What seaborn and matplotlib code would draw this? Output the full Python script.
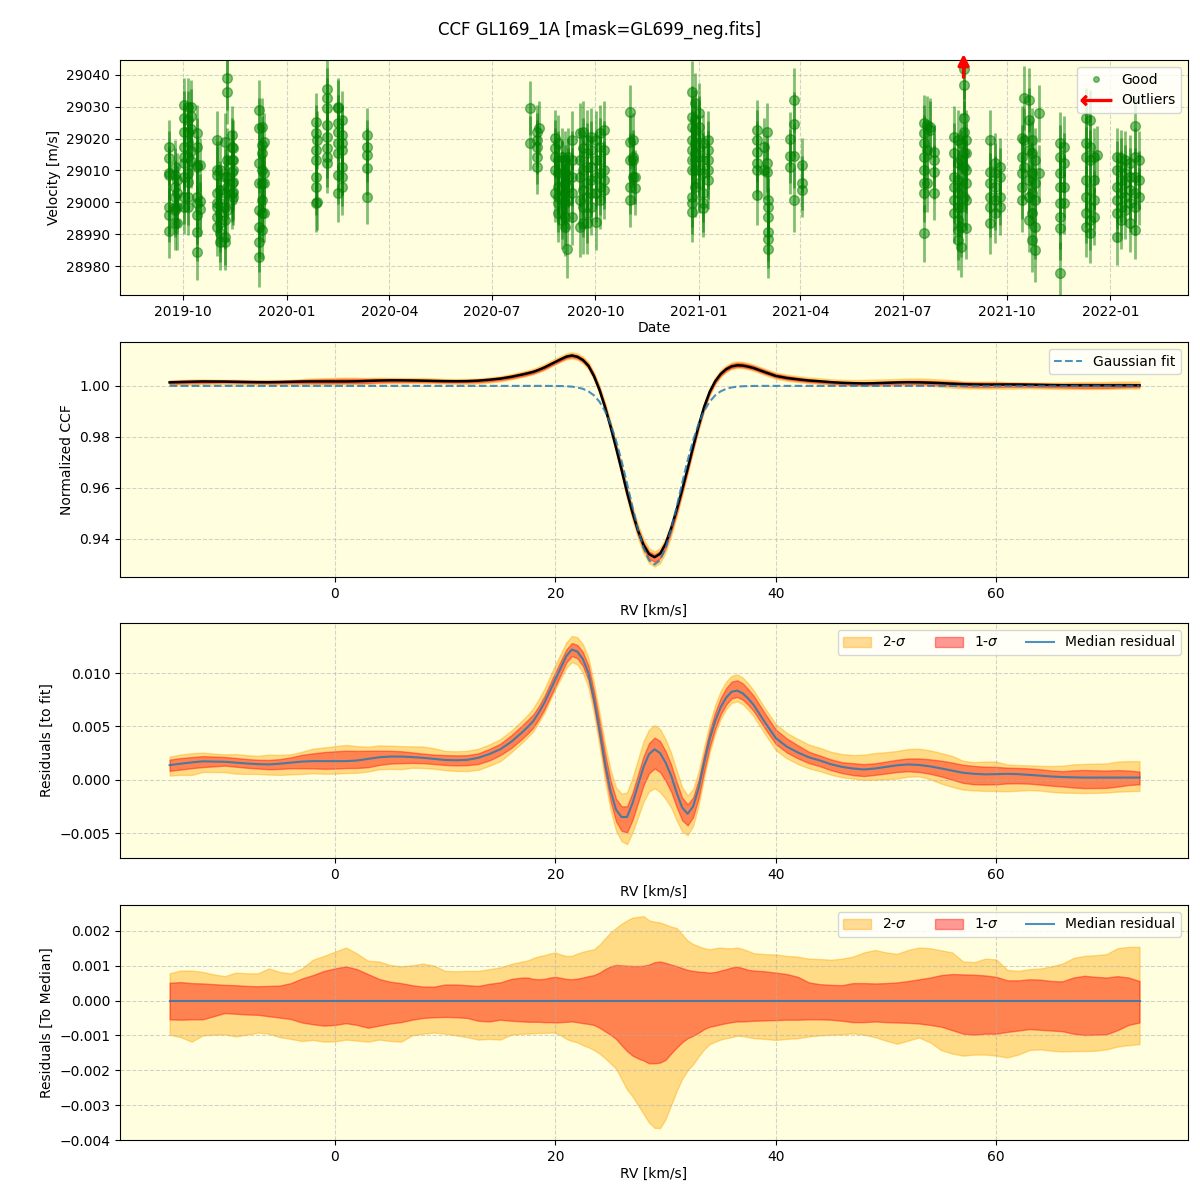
import numpy as np
import pandas as pd
import matplotlib
matplotlib.use("Agg")
import matplotlib.pyplot as plt
import matplotlib.dates as mdates
from matplotlib.lines import Line2D
import seaborn as sns

# ---------------- Top panel: RV time series (days after 2019-10-01) ----------------
base_date = pd.Timestamp("2019-10-01")
group_days = [-12.1, -7.1, -5.0, 0.9, 4.7, 6.8, 12.7, 15.1,
              29.9, 32.8, 37.3, 39.3, 43.2, 44.7,
              67.8, 69.8, 71.9,
              117.8, 119.3, 127.6, 137.9, 140.9, 163.0,
              308.0, 314.0, 316.0,
              330.3, 333.2, 336.2, 339.1, 340.6, 342.1, 345.0,
              352.4, 355.4, 358.9, 362.0, 366.4, 370.2, 373.8,
              396.8, 399.8, 401.3,
              451.6, 454.5, 457.5, 461.3, 465.5,
              509.3, 515.2, 518.2, 519.1,
              538.9, 542.4, 549.3,
              657.3, 660.2, 662.6, 666.1,
              684.5, 687.4, 690.4, 692.8, 695.1,
              716.5, 720.9, 724.7,
              744.6, 746.6, 750.5, 753.4, 756.4, 759.3,
              778.6, 782.1,
              801.7, 804.6, 808.2, 811.2,
              828.9, 832.4, 836.3, 840.1, 845.2, 848.1]
group_errs = [8.5, 8.5, 8.5, 8.5, 9.0, 8.5, 9.0, 8.5,
              9.0, 9.0, 9.0, 10.0, 9.0, 9.0,
              9.5, 9.0, 9.0,
              9.0, 9.0, 9.5, 9.0, 9.0, 8.5,
              8.5, 8.5, 8.5,
              9.0, 9.0, 9.0, 9.0, 9.0, 9.0, 9.0,
              9.5, 9.5, 9.5, 9.0, 9.0, 9.0, 9.0,
              8.5, 8.5, 8.5,
              9.5, 9.5, 9.5, 9.0, 9.0,
              9.5, 9.0, 9.0, 9.0,
              8.5, 10.0, 8.5,
              9.0, 9.0, 9.0, 8.5,
              9.5, 9.5, 9.5, 9.5, 9.5,
              9.5, 9.5, 9.0,
              10.0, 10.0, 10.0, 10.0, 10.0, 9.0,
              10.0, 9.5,
              9.5, 9.5, 9.0, 9.0,
              9.0, 9.0, 9.0, 9.0, 9.0, 9.0]
group_vels = [
    [29017.3, 29013.8, 29009.1, 29008.6, 28998.6, 28996.0, 28991.1],
    [29011.2, 29008.6, 29004.9, 29001.8, 28998.6, 28997.6, 28993.4],
    [29007.0, 29002.8, 28998.6, 28993.4],
    [29030.6, 29026.4, 29022.2, 29017.5, 29014.3, 29012.3, 29008.0, 29001.8, 28998.6],
    [29030.0, 29025.9, 29022.2, 29019.0, 29014.3, 29009.1, 29006.5, 29001.8, 28998.6],
    [29030.0, 29027.0, 29023.0, 29016.0, 29013.0],
    [29021.7, 29017.5, 29011.7, 29011.2, 29001.8, 28999.7, 28996.0, 28990.6, 28984.5],
    [29011.7, 29000.5, 28998.0],
    [29019.6, 29010.2, 29008.6, 29002.8, 28999.7, 28998.6, 28995.5, 28992.3],
    [29010.2, 29003.9, 28999.7, 28996.6, 28993.4, 28990.3, 28987.6],
    [29019.0, 29008.0, 29002.8, 28998.6, 28994.4, 28989.2, 28987.6],
    [29039.0, 29034.6, 29013.3, 29008.0, 29004.9, 28997.6],
    [29021.1, 29017.5, 29013.3, 29009.6, 29006.0, 29002.8, 29000.7],
    [29017.0, 29013.3, 29010.2, 29006.5, 29003.3, 29001.8],
    [29029.0, 29023.3, 29012.3, 29006.0, 28997.6, 28992.3, 28987.6, 28982.9],
    [29023.8, 29018.0, 29015.4, 29010.2, 29006.0, 29000.7, 28996.6, 28991.3],
    [29019.0, 29009.1, 29006.0, 28996.6],
    [29025.3, 29021.7, 29016.4, 29013.3, 29008.0, 29004.9, 28999.7],
    [29019.6, 29000.2],
    [29035.5, 29032.7, 29029.5, 29024.3, 29020.6, 29017.0, 29014.3, 29012.3],
    [29030.0, 29029.5, 29024.8, 29022.2, 29018.5, 29015.4, 29008.6, 29002.8],
    [29025.9, 29021.1, 29018.5, 29016.4, 29011.2, 29008.0, 29004.9],
    [29021.1, 29017.5, 29014.9, 29010.7, 29001.8],
    [29029.5, 29018.5],
    [29022.2, 29019.6, 29017.5, 29014.3, 29011.2],
    [29023.3],
    [29020.1, 29017.0, 29014.3, 29010.2, 29002.8],
    [29018.5, 29013.3, 29009.1, 29004.9, 29001.8, 28999.7, 28996.6],
    [29014.3, 29010.2, 29007.0, 29003.9, 29000.7, 28997.6, 28994.4],
    [29013.3, 29009.1, 29006.0, 29002.8, 28999.7, 28995.5, 28992.3],
    [28985.2],
    [29014.3, 29011.2, 29008.0, 29004.9, 29000.7],
    [29019.6, 29013.3, 29008.0, 29002.8, 28995.5],
    [29021.7, 29013.3, 29008.0, 29000.7, 28992.3],
    [29022.2, 29017.0, 29010.2, 29003.9, 28998.6, 28993.4],
    [29019.6, 29015.4, 29011.2, 29006.0, 29001.8, 28996.6, 28993.4],
    [29020.6, 29016.4, 29011.2, 29007.0, 29002.8, 28998.6],
    [29019.6, 29013.3, 29008.0, 29002.8, 28993.9],
    [29021.7, 29017.5, 29013.3, 29009.1, 29004.9, 29000.7],
    [29022.7, 29016.4, 29010.2, 29007.0, 29003.9],
    [29028.5, 29019.0, 29013.3, 29004.9, 29000.7],
    [29019.6, 29014.3, 29013.3, 29008.0],
    [29008.0, 29004.4],
    [29034.8, 29026.9, 29023.8, 29019.6, 29016.4, 29013.3, 29010.2, 29001.8, 28999.7, 28997.1],
    [29031.1, 29025.9, 29022.7, 29018.5, 29015.4, 29013.3, 29010.2, 29004.9],
    [29028.0, 29023.8, 29020.6, 29017.5, 29014.3, 29010.2, 29006.0],
    [29018.5, 29013.3, 29009.1, 29002.8, 28999.7, 28998.1],
    [29019.6, 29016.4, 29013.3, 29010.2, 29007.0],
    [29022.7, 29019.6, 29015.9, 29012.3, 29010.2, 29002.3],
    [29017.5, 29010.2],
    [29022.2, 29012.3, 29009.6],
    [29000.7, 28998.6, 28995.5, 28990.6, 28988.5, 28985.2],
    [29019.8, 29014.6, 29011.2],
    [29032.1, 29024.6, 29014.6, 29000.7],
    [29011.7, 29006.0, 29003.9],
    [29024.8, 29021.7, 29018.5, 29014.3, 29010.2, 29006.0, 29002.8, 28990.3],
    [29024.3, 29016.4, 29006.0],
    [29023.8, 29022.7],
    [29015.9, 29013.3, 29009.6, 29002.8],
    [29020.6, 29015.4, 29008.0, 29004.9, 29000.7, 28996.6],
    [29019.6, 29012.3, 29007.0, 29002.8, 28998.6, 28994.4, 28991.3, 28988.1],
    [29018.5, 29013.3, 29004.9, 28998.6, 28992.3, 28986.1],
    [29041.8, 29036.9, 29026.4, 29022.2, 29015.4, 29011.2, 29001.8],
    [29019.6, 29015.4, 29010.2, 29006.0, 29000.7, 28991.8],
    [29019.6, 29009.6, 29006.0, 29001.8, 28998.6, 28993.4],
    [29012.3, 29009.1, 29004.9, 29000.7, 28996.6],
    [29011.2, 29008.0, 29001.8, 28998.6],
    [29020.1, 29014.3, 29009.1, 29004.9, 29000.7],
    [29032.7, 29019.6, 29011.2],
    [29032.1, 29025.9, 29016.4, 29007.0, 29001.8, 28994.4],
    [29019.6, 29015.4, 29009.1, 29002.8, 28996.6, 28988.1],
    [29013.3, 29006.0, 29000.7, 28992.3, 28985.0],
    [29028.0, 29009.1],
    [29018.5, 29014.3, 29009.1, 29004.9, 28999.7, 28995.5, 28991.8, 28977.7],
    [29017.5, 29012.3, 29004.9, 28999.7],
    [29026.4, 29018.5, 29014.3, 29007.0, 29001.8, 28996.6, 28992.3],
    [29025.9, 29017.5, 29013.3, 29003.9, 28998.6, 28994.4, 28990.3],
    [29014.3, 29007.0, 29000.7, 28995.5],
    [29014.9],
    [29014.3, 29010.2, 29004.9, 29000.7, 28996.6, 28989.2],
    [29013.8, 29011.2, 29007.0, 29002.8, 28998.6, 28994.4],
    [29013.3, 29009.1, 29006.0, 29001.8, 28997.6],
    [29012.3, 29008.0, 29003.9, 28999.7, 28993.4],
    [29024.0, 29014.3, 29008.0, 29002.8, 28998.6, 28991.3],
    [29013.3, 29007.0, 29001.8],
]
outlier_day = 692.8
outlier_arrow = (29038.4, 29047.5)

# ---------------- CCF panels ----------------
rv = np.concatenate([np.arange(-15, 17.5, 1.0),
                     np.arange(17.5, 38.25, 0.5),
                     np.arange(39, 73.5, 1.0)])

# Gaussian fit parameters
fit_depth, fit_center, fit_sigma = 0.070, 29.0, 2.27

# median residual to fit (units of 1e-3)
med_res = [1.37, 1.50, 1.62, 1.72, 1.70, 1.68, 1.60, 1.52, 1.46, 1.43, 1.50, 1.60, 1.70, 1.74, 1.74, 1.74, 1.74,
           1.80, 1.95, 2.10, 2.17, 2.17, 2.12, 2.05, 1.95, 1.85, 1.82, 1.86, 2.05, 2.40, 2.85, 3.55, 4.45,
           4.95, 5.5, 6.3, 7.2, 8.3, 9.4, 10.5, 11.6, 12.2, 12.0, 11.3, 10.0, 7.6, 4.7, 1.6, -1.0, -2.8, -3.5,
           -3.5, -2.2, -0.5, 1.2, 2.4, 2.85, 2.5, 1.6, 0.4, -1.2, -2.6, -3.2, -2.5, -0.8, 1.6, 3.8, 5.5, 6.8,
           7.7, 8.25, 8.35, 8.1, 7.6, 7.0,
           5.4, 3.9, 3.1, 2.55, 2.1, 1.8, 1.45, 1.2, 1.05, 0.96, 1.05, 1.2, 1.35, 1.43, 1.38, 1.25, 1.06,
           0.85, 0.65, 0.55, 0.5, 0.52, 0.55, 0.52, 0.45, 0.38, 0.3, 0.25, 0.22, 0.2, 0.2, 0.2, 0.2, 0.2, 0.2]

# percentile offsets relative to the median (units of 1e-3)
up2 = [0.78, 0.86, 0.86, 0.82, 0.75, 0.70, 0.80, 0.78, 0.78, 0.92, 0.82, 0.78, 0.92, 1.17, 1.28, 1.40, 1.52,
       1.35, 1.14, 1.12, 1.02, 0.98, 1.01, 1.06, 1.00, 0.85, 0.84, 0.85, 0.85, 0.90, 0.95, 1.05, 1.12,
       1.15, 1.22, 1.27, 1.30, 1.35, 1.38, 1.32, 1.28, 1.28, 1.35, 1.40, 1.44, 1.47, 1.60, 1.78, 1.95, 2.08,
       2.20, 2.30, 2.38, 2.40, 2.42, 2.30, 2.26, 2.24, 2.18, 2.12, 2.08, 1.90, 1.72, 1.62, 1.56, 1.50, 1.47,
       1.50, 1.52, 1.50, 1.50, 1.52, 1.48, 1.42, 1.36,
       1.33, 1.32, 1.28, 1.26, 1.20, 1.19, 1.17, 1.20, 1.26, 1.38, 1.45, 1.38, 1.34, 1.45, 1.52, 1.50, 1.44,
       1.38, 1.12, 1.10, 1.20, 1.18, 0.88, 0.85, 0.90, 0.92, 0.98, 1.06, 1.22, 1.28, 1.30, 1.33, 1.50, 1.54, 1.54]
up1 = [0.51, 0.53, 0.50, 0.49, 0.47, 0.45, 0.44, 0.42, 0.41, 0.42, 0.43, 0.50, 0.63, 0.73, 0.85, 0.92, 0.98,
       0.90, 0.76, 0.62, 0.54, 0.50, 0.44, 0.40, 0.40, 0.46, 0.46, 0.44, 0.42, 0.48, 0.52, 0.62, 0.66,
       0.66, 0.62, 0.61, 0.62, 0.66, 0.68, 0.65, 0.62, 0.61, 0.63, 0.66, 0.70, 0.73, 0.80, 0.90, 0.98, 1.02,
       1.01, 1.00, 0.99, 0.99, 1.00, 1.03, 1.10, 1.12, 1.08, 1.03, 0.99, 0.93, 0.88, 0.85, 0.83, 0.82, 0.80,
       0.82, 0.86, 0.90, 0.95, 0.97, 0.93, 0.88, 0.86,
       0.84, 0.80, 0.76, 0.68, 0.52, 0.47, 0.45, 0.44, 0.50, 0.50, 0.49, 0.50, 0.52, 0.56, 0.61, 0.66, 0.73,
       0.76, 0.75, 0.74, 0.72, 0.68, 0.58, 0.58, 0.61, 0.60, 0.56, 0.55, 0.66, 0.71, 0.68, 0.66, 0.70, 0.66, 0.56]
lo1 = [-0.54, -0.55, -0.54, -0.54, -0.45, -0.36, -0.38, -0.40, -0.41, -0.45, -0.49, -0.53, -0.63, -0.68, -0.72,
       -0.70, -0.65, -0.70, -0.78, -0.72, -0.66, -0.62, -0.55, -0.50, -0.48, -0.47, -0.48, -0.50, -0.58, -0.60,
       -0.55, -0.58, -0.60,
       -0.61, -0.61, -0.61, -0.62, -0.62, -0.63, -0.62, -0.61, -0.60, -0.62, -0.65, -0.67, -0.70, -0.78, -0.88,
       -0.98, -1.10, -1.28, -1.45, -1.58, -1.66, -1.72, -1.80, -1.80, -1.78, -1.70, -1.52, -1.35, -1.20, -1.08,
       -1.01, -0.92, -0.82, -0.75, -0.72, -0.68, -0.65, -0.62, -0.60, -0.60, -0.59, -0.58,
       -0.57, -0.56, -0.55, -0.55, -0.54, -0.54, -0.55, -0.58, -0.62, -0.62, -0.60, -0.62, -0.63, -0.64, -0.66,
       -0.70, -0.75, -0.85, -0.95, -0.98, -0.95, -0.95, -0.90, -0.86, -0.82, -0.84, -0.86, -0.88, -0.95, -0.99,
       -0.98, -0.97, -0.85, -0.70, -0.63]
lo2 = [-0.98, -1.05, -1.18, -1.00, -0.98, -0.97, -1.03, -0.98, -0.92, -0.95, -1.05, -1.10, -1.16, -1.13, -1.18,
       -1.17, -1.12, -1.15, -1.18, -1.12, -1.16, -1.18, -1.00, -0.95, -0.92, -0.95, -1.00, -1.05, -1.12, -1.10,
       -1.12, -0.98, -0.95,
       -0.95, -0.94, -0.93, -0.93, -0.92, -0.92, -1.00, -1.10, -1.16, -1.20, -1.28, -1.34, -1.42, -1.52, -1.65,
       -1.80, -1.95, -2.25, -2.55, -2.75, -3.00, -3.25, -3.50, -3.65, -3.66, -3.40, -3.00, -2.60, -2.25, -2.00,
       -1.83, -1.60, -1.40, -1.25, -1.18, -1.12, -1.08, -1.05, -1.01, -1.02, -1.05, -1.08,
       -1.10, -1.13, -1.10, -1.08, -1.03, -1.00, -0.98, -0.97, -0.94, -0.98, -1.05, -1.15, -1.24, -1.15, -1.06,
       -1.20, -1.42, -1.52, -1.58, -1.55, -1.55, -1.58, -1.63, -1.55, -1.42, -1.40, -1.44, -1.46, -1.45, -1.45,
       -1.44, -1.40, -1.32, -1.28, -1.25]

# ---------------- derived quantities ----------------
med = np.array(med_res) * 1e-3
u2 = np.array(up2) * 1e-3
u1 = np.array(up1) * 1e-3
l1 = np.array(lo1) * 1e-3
l2 = np.array(lo2) * 1e-3
fit = 1.0 - fit_depth * np.exp(-(rv - fit_center) ** 2 / (2 * fit_sigma ** 2))
ccf = fit + med

dates, vels, errs = [], [], []
for d, e, vs in zip(group_days, group_errs, group_vels):
    for v in vs:
        dates.append(base_date + pd.Timedelta(days=d))
        vels.append(v)
        errs.append(e)

BG = "lightyellow"
C2, C1 = "orange", "red"

fig = plt.figure(figsize=(12, 12), dpi=100)
W, H = 0.89, 235 / 1200
ax1 = fig.add_axes([0.1, 1 - 295 / 1200, W, H])
ax2 = fig.add_axes([0.1, 1 - 577 / 1200, W, H])
ax3 = fig.add_axes([0.1, 1 - 858 / 1200, W, H])
ax4 = fig.add_axes([0.1, 1 - 1140 / 1200, W, H])

for ax in (ax1, ax2, ax3, ax4):
    ax.set_facecolor(BG)
    ax.grid(True, linestyle="--", alpha=0.55)

# ---- panel 1
ax1.errorbar(dates, vels, yerr=errs, fmt="o", color="green", ms=7, alpha=0.5,
             elinewidth=2, capsize=0)
od = base_date + pd.Timedelta(days=outlier_day)
ax1.annotate("", xy=(od, outlier_arrow[1]), xytext=(od, outlier_arrow[0]),
             arrowprops=dict(arrowstyle="-|>", color="red", lw=2.5, mutation_scale=16),
             annotation_clip=False)
ax1.set_xlim(base_date + pd.Timedelta(days=-56), base_date + pd.Timedelta(days=892))
ax1.set_ylim(28970.9, 29044.7)
ax1.set_yticks(np.arange(28980, 29041, 10))
ax1.xaxis.set_major_locator(mdates.MonthLocator(bymonth=[1, 4, 7, 10]))
ax1.xaxis.set_major_formatter(mdates.DateFormatter("%Y-%m"))
ax1.set_xlabel("Date", labelpad=2)
ax1.set_ylabel("Velocity [m/s]")
h_good = Line2D([], [], marker="o", ls="", color="green", alpha=0.5, ms=4)
h_out = Line2D([], [], marker=r"$\longleftarrow$", ls="", color="red", ms=22)
ax1.legend([h_good, h_out], ["Good", "Outliers"], loc="upper right")

# ---- panel 2
ax2.fill_between(rv, fit + med + l2, fit + med + u2, color=C2, alpha=0.4)
ax2.fill_between(rv, fit + med + l1, fit + med + u1, color=C1, alpha=0.4)
sns.lineplot(x=rv, y=ccf, ax=ax2, color="black", lw=1.8, legend=False)
sns.lineplot(x=rv, y=fit, ax=ax2, color="C0", lw=1.5, ls="--", alpha=0.8, label="Gaussian fit")
ax2.set_xlim(-19.5, 77.4)
ax2.set_ylim(0.9251, 1.0172)
ax2.set_yticks([0.94, 0.96, 0.98, 1.00])
ax2.set_xlabel("RV [km/s]", labelpad=2)
ax2.set_ylabel("Normalized CCF")
ax2.legend(loc="upper right")

# ---- panel 3
ax3.fill_between(rv, med + l2, med + u2, color=C2, alpha=0.4, label=r"2-$\sigma$")
ax3.fill_between(rv, med + l1, med + u1, color=C1, alpha=0.4, label=r"1-$\sigma$")
sns.lineplot(x=rv, y=med, ax=ax3, color="C0", lw=1.5, alpha=0.8, label="Median residual")
ax3.set_xlim(-19.5, 77.4)
ax3.set_ylim(-0.00734, 0.01469)
ax3.set_yticks([-0.005, 0.0, 0.005, 0.010])
ax3.set_xlabel("RV [km/s]", labelpad=2)
ax3.set_ylabel("Residuals [to fit]")
ax3.legend(loc="upper right", ncol=3)

# ---- panel 4
ax4.fill_between(rv, l2, u2, color=C2, alpha=0.4, label=r"2-$\sigma$")
ax4.fill_between(rv, l1, u1, color=C1, alpha=0.4, label=r"1-$\sigma$")
sns.lineplot(x=rv, y=med - med, ax=ax4, color="C0", lw=1.5, alpha=0.8, label="Median residual")
ax4.set_xlim(-19.5, 77.4)
ax4.set_ylim(-0.00400, 0.00274)
ax4.set_yticks([-0.004, -0.003, -0.002, -0.001, 0.0, 0.001, 0.002])
ax4.set_xlabel("RV [km/s]", labelpad=2)
ax4.set_ylabel("Residuals [To Median]")
ax4.legend(loc="upper right", ncol=3)

for ax in (ax2, ax3, ax4):
    ax.set_xticks([0, 20, 40, 60])

fig.suptitle("CCF GL169_1A [mask=GL699_neg.fits]", y=0.983, fontsize=12)
fig.savefig("out.png", dpi=100)
